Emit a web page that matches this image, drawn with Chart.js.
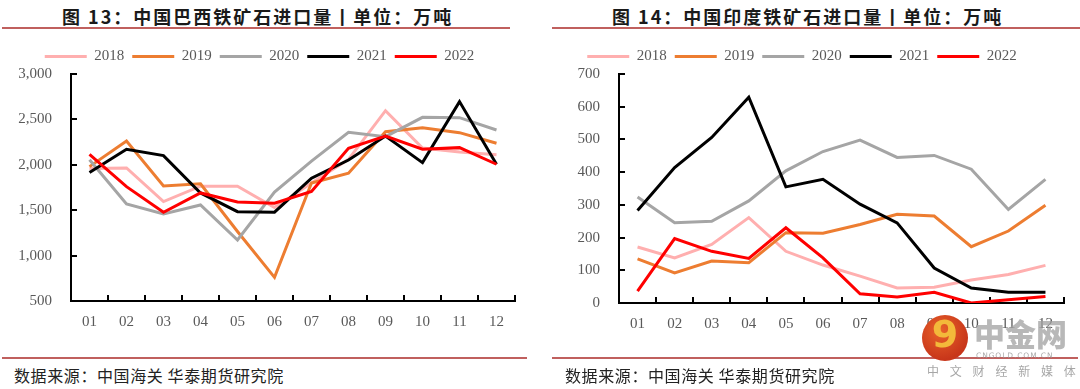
<!DOCTYPE html>
<html>
<head>
<meta charset="utf-8">
<script src="https://cdn.jsdelivr.net/npm/chart.js@4.4.0/dist/chart.umd.min.js"></script>
<style>
  html, body { margin: 0; padding: 0; background: #fff; }
  body { width: 1080px; height: 389px; position: relative; overflow: hidden; }
  .title { position: absolute; top: 4px; font-family: "Noto Sans CJK SC", sans-serif; font-weight: 700; font-size: 18px; letter-spacing: 2px; color: #1a1a1a; white-space: nowrap; line-height: 24px; }
  .rule { position: absolute; height: 2px; background: #C0605E; }
  .src { position: absolute; top: 365px; font-family: "Noto Sans CJK SC", sans-serif; font-size: 16px; letter-spacing: 0.6px; color: #222; white-space: nowrap; line-height: 20px; }
  canvas { position: absolute; }
  .wm-circle { position: absolute; left: 922px; top: 315px; width: 46px; height: 46px; border-radius: 50%; background: radial-gradient(circle at 40% 35%, #E8622A, #C8361A 70%); overflow: hidden; }
  .wm-nine { position: absolute; left: 0; top: -6px; width: 46px; text-align: center; font-family: "DejaVu Sans", sans-serif; font-weight: 700; font-size: 38px; color: #F3B93A; line-height: 50px; }
  .wm-big { position: absolute; left: 974px; top: 313px; font-family: "Noto Sans CJK SC", sans-serif; font-weight: 900; font-size: 31px; color: rgba(160,160,160,0.75); line-height: 40px; white-space: nowrap; }
  .wm-url { position: absolute; left: 976px; top: 351px; font-family: "DejaVu Sans", sans-serif; font-size: 7.5px; color: rgba(150,150,150,0.8); letter-spacing: 0.9px; white-space: nowrap; }
  .wm-sub { position: absolute; left: 927px; top: 362px; font-family: "Noto Sans CJK SC", sans-serif; font-size: 12px; color: rgba(150,150,150,0.85); letter-spacing: 10.8px; white-space: nowrap; line-height: 18px; }
</style>
</head>
<body>
<div class="title" id="t1" style="left:62px;">图 13：中国巴西铁矿石进口量丨单位：万吨</div>
<div class="title" id="t2" style="left:612px;">图 14：中国印度铁矿石进口量丨单位：万吨</div>
<div class="rule" style="left:2px; width:508px; top:27px;"></div>
<div class="rule" style="left:552px; width:528px; top:27px;"></div>
<canvas id="c1" width="540" height="300" style="left:4px; top:40px; width:540px; height:300px;"></canvas>
<canvas id="c2" width="540" height="300" style="left:540px; top:40px; width:540px; height:300px;"></canvas>
<div class="rule" style="left:2px; width:525px; top:357px;"></div>
<div class="rule" style="left:552px; width:526px; top:357px;"></div>
<div class="src" style="left:14px;">数据来源：中国海关 华泰期货研究院</div>
<div class="src" style="left:565px;">数据来源：中国海关 华泰期货研究院</div>
<div class="wm-circle"><div class="wm-nine">9</div></div>
<div class="wm-big">中金网</div>
<div class="wm-url">CNGOLD.COM.CN</div>
<div class="wm-sub">中文财经新媒体</div>
<script>
// ---- data ----
const months = ['01','02','03','04','05','06','07','08','09','10','11','12'];
const years = ['2018','2019','2020','2021','2022'];
const colors = ['#FFAFAF','#ED7D31','#A5A5A5','#000000','#FF0000'];

// Brazil iron ore imports (万吨)
const br2018 = [1960, 1965, 1595, 1765, 1765, 1530, 1800, 2060, 2596, 2185, 2140, 2110];
const br2019 = [1980, 2262, 1767, 1790, 1265, 760, 1800, 1907, 2365, 2409, 2354, 2237];
const br2020 = [2055, 1569, 1459, 1558, 1172, 1700, 2040, 2358, 2310, 2523, 2519, 2383];
const br2021 = [1915, 2171, 2101, 1690, 1484, 1478, 1852, 2053, 2317, 2024, 2696, 2006];
const br2022 = [2115, 1759, 1477, 1690, 1590, 1576, 1706, 2182, 2317, 2171, 2189, 2006];

// India iron ore imports (万吨)
const in2018 = [171, 138, 179, 261, 158, 116, 82, 46, 48, 70, 87, 115];
const in2019 = [135, 92, 128, 123, 215, 213, 240, 271, 266, 172, 220, 299];
const in2020 = [324, 245, 250, 312, 404, 463, 498, 445, 451, 409, 286, 378];
const in2021 = [283, 414, 506, 629, 355, 378, 302, 245, 107, 46, 33, 33];
const in2022 = [36, 197, 158, 136, 230, 138, 28, 18, 33, 0, 10, 20];

const brY = { min: 500, max: 3000, step: 500 };
const inY = { min: 0, max: 700, step: 100 };

const tickFont = { family: '"Liberation Serif", serif', size: 15 };
const tickColor = '#595959';

function makeChart(id, seriesList, yr, yWidth, padRight, xHeight, padBottom) {
  const datasets = seriesList.map((d, i) => ({
    label: years[i],
    data: d,
    borderColor: colors[i],
    backgroundColor: colors[i],
    borderWidth: 3,
    pointRadius: 0,
    tension: 0,
    fill: false,
    order: 5 - i
  }));
  return new Chart(document.getElementById(id), {
    type: 'line',
    data: { labels: months, datasets },
    options: {
      responsive: false,
      animation: false,
      devicePixelRatio: 1,
      layout: { padding: { top: 1, left: 0, right: padRight, bottom: padBottom } },
      plugins: {
        tooltip: { enabled: false },
        legend: {
          position: 'top',
          align: 'center',
          labels: {
            boxWidth: 42,
            boxHeight: 3,
            padding: 8,
            color: tickColor,
            font: tickFont,
            generateLabels: (chart) => chart.data.datasets.map((ds, i) => ({
              text: ds.label,
              fillStyle: ds.borderColor,
              strokeStyle: ds.borderColor,
              lineWidth: 0,
              hidden: false,
              datasetIndex: i,
              fontColor: tickColor
            }))
          }
        }
      },
      scales: {
        x: {
          type: 'category',
          offset: true,
          grid: { display: true, drawOnChartArea: false, drawTicks: true, tickLength: -6, color: '#000', lineWidth: 2, offset: true },
          border: { display: true, color: '#000', width: 2 },
          ticks: { color: tickColor, font: tickFont, padding: 18, maxRotation: 0, autoSkip: false },
          afterFit: (s) => { s.height = xHeight; }
        },
        y: {
          min: yr.min, max: yr.max,
          grid: { display: true, drawOnChartArea: false, drawTicks: true, tickLength: -6, color: '#000', lineWidth: 2 },
          border: { display: true, color: '#000', width: 2 },
          ticks: { stepSize: yr.step, color: tickColor, font: tickFont, padding: 25 },
          afterFit: (s) => { s.width = yWidth; }
        }
      }
    }
  });
}

makeChart('c1', [br2018, br2019, br2020, br2021, br2022], brY, 67, 29, 36, 3);
makeChart('c2', [in2018, in2019, in2020, in2021, in2022], inY, 79, 16, 37, 0);
</script>
</body>
</html>
